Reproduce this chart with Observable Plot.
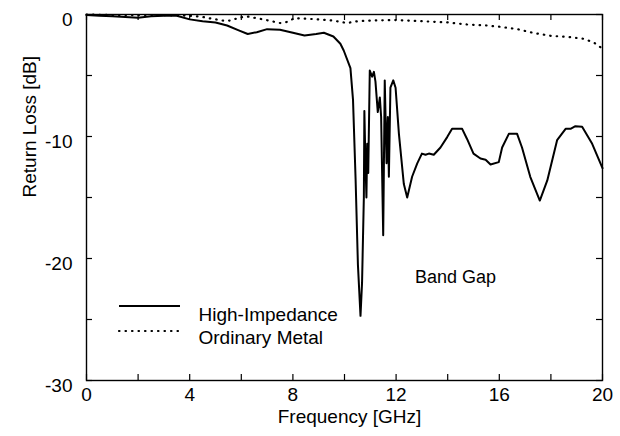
<!DOCTYPE html>
<html>
<head>
<meta charset="utf-8">
<script src="https://cdn.jsdelivr.net/npm/d3@7"></script>
<script src="https://cdn.jsdelivr.net/npm/@observablehq/plot@0.6"></script>
<style>
  html, body { margin: 0; padding: 0; background: #fff; }
  #chart { width: 620px; height: 436px; }
</style>
</head>
<body>
<div id="chart"></div>
<script>
// Frequency [GHz] and return loss [dB]
const hiFreq = [0, 0.5, 1.0, 1.5, 2.0, 2.5, 3.0, 3.5, 4.0, 4.5, 5.0, 5.45, 5.9, 6.25, 6.6, 7.0, 7.5, 8.0, 8.45, 8.9, 9.2, 9.57, 9.84, 9.97,
  10.23, 10.33, 10.43, 10.52, 10.62, 10.68, 10.75, 10.77, 10.81, 10.85, 10.88, 10.92, 10.98, 11.07, 11.14, 11.2, 11.29, 11.37, 11.42, 11.5,
  11.56, 11.63, 11.68, 11.72, 11.78, 11.89, 11.98, 12.11, 12.3, 12.43, 12.62, 12.82, 13.0, 13.14, 13.27, 13.46, 13.72, 13.98, 14.17, 14.56,
  14.75, 15.0, 15.27, 15.47, 15.66, 15.98, 16.11, 16.37, 16.69, 16.88, 17.2, 17.57, 17.86, 18.24, 18.57, 18.76, 18.95, 19.21, 19.6, 20.0];
const hiLoss = [-0.05, -0.1, -0.15, -0.2, -0.27, -0.15, -0.1, -0.1, -0.4, -0.55, -0.65, -0.9, -1.3, -1.6, -1.45, -1.2, -1.25, -1.5, -1.72, -1.6, -1.5, -1.8, -2.4, -2.95,
  -4.4, -7.0, -13.5, -20.5, -24.7, -22, -15, -7.9, -12, -15, -10.6, -13, -4.6, -5.1, -4.7, -5.5, -8.0, -6.8, -8.4, -18.1,
  -5.4, -12.2, -8.4, -13.3, -6.0, -5.4, -6.0, -9.8, -13.9, -15.0, -13.3, -12.2, -11.4, -11.5, -11.4, -11.5, -10.9, -10.05, -9.37, -9.37,
  -10.2, -11.4, -11.8, -11.9, -12.3, -12.1, -10.9, -9.78, -9.78, -10.9, -13.3, -15.25, -13.6, -10.3, -9.37, -9.37, -9.15, -9.2, -10.6, -12.6];

const metalFreq = [0, 1, 2, 3, 4, 4.5, 4.9, 5.3, 5.6, 5.85, 6.2, 6.85, 7.5, 7.8, 8.05, 8.55, 9.0, 9.57, 10.1, 10.5, 11.0, 11.9, 12.5, 13.0,
  14.0, 14.75, 15.5, 16.0, 16.7, 17.3, 18.0, 18.7, 19.3, 19.7, 20.0];
const metalLoss = [0, -0.05, -0.05, -0.05, -0.1, -0.2, -0.36, -0.5, -0.5, -0.3, -0.15, -0.4, -0.7, -0.6, -0.3, -0.35, -0.4, -0.5, -0.7, -0.55, -0.5, -0.45, -0.5, -0.55,
  -0.65, -0.82, -0.9, -1.0, -1.2, -1.5, -1.75, -1.85, -2.0, -2.35, -2.8];

const xTicks = [0, 2, 4, 6, 8, 10, 12, 14, 16, 18, 20];
const xLabels = [0, 4, 8, 12, 16, 20];
const yTicks = [0, -5, -10, -15, -20, -25, -30];
const yLabels = [0, -10, -20, -30];

const seriesNames = ["High-Impedance", "Ordinary Metal"];
const xTitle = "Frequency [GHz]";
const yTitle = "Return Loss [dB]";
const annotation = "Band Gap";

const hi = hiFreq.map((f, i) => ({f, v: hiLoss[i]}));
const metal = metalFreq.map((f, i) => ({f, v: metalLoss[i]}));

const W = 620, H = 436;
const mL = 86, mR = 18, mT = 14, mB = 56;
const plotW = W - mL - mR, plotH = H - mT - mB;
const tickLen = 6;
const font = "'Liberation Sans', Arial, Helvetica, sans-serif";
const fs = 19;

const chart = Plot.plot({
  width: W, height: H,
  marginLeft: mL, marginRight: mR, marginTop: mT, marginBottom: mB,
  style: {fontFamily: font, fontSize: fs + "px", color: "#000", background: "#fff"},
  x: {domain: [0, 20]},
  y: {domain: [-30, 0]},
  marks: [
    Plot.axisX({ticks: xLabels, tickSize: 0, tickPadding: 7, tickFormat: d => String(d), label: null, fontSize: fs}),
    Plot.axisY({ticks: yLabels, tickSize: 0, tickPadding: 14, dy: 5, tickFormat: d => String(d), label: null, fontSize: fs}),
    Plot.tickX(xTicks, {x: d => d, insetTop: plotH - tickLen, stroke: "#000", strokeWidth: 1.2}),
    Plot.tickX(xTicks, {x: d => d, insetBottom: plotH - tickLen, stroke: "#000", strokeWidth: 1.2}),
    Plot.tickY(yTicks, {y: d => d, insetRight: plotW - tickLen, stroke: "#000", strokeWidth: 1.2}),
    Plot.tickY(yTicks, {y: d => d, insetLeft: plotW - tickLen, stroke: "#000", strokeWidth: 1.2}),
    Plot.line(metal, {x: "f", y: "v", stroke: "#000", strokeWidth: 2.2, strokeDasharray: "0.5,6", strokeLinecap: "round"}),
    Plot.line(hi, {x: "f", y: "v", stroke: "#000", strokeWidth: 2, strokeLinejoin: "round"}),
    Plot.frame({stroke: "#000", strokeWidth: 1.4}),
    Plot.text([annotation], {frameAnchor: "top-left", dx: 369, dy: 256, fontSize: 18, textAnchor: "middle", fill: "#000"}),
    Plot.text([seriesNames[0]], {frameAnchor: "top-left", dx: 112, dy: 293, fontSize: fs, textAnchor: "start", fill: "#000"}),
    Plot.text([seriesNames[1]], {frameAnchor: "top-left", dx: 112, dy: 316, fontSize: fs, textAnchor: "start", fill: "#000"}),
    Plot.text([xTitle], {frameAnchor: "bottom", dx: 5, dy: 42, fontSize: fs, fill: "#000"}),
    Plot.text([yTitle], {frameAnchor: "left", dx: -57, rotate: -90, fontSize: fs, fill: "#000"})
  ]
});

// legend sample lines (pixel layout inside the plot area)
const svg = d3.select(chart);
svg.append("line").attr("x1", mL + 33).attr("x2", mL + 94).attr("y1", mT + 292).attr("y2", mT + 292)
  .attr("stroke", "#000").attr("stroke-width", 2);
svg.append("line").attr("x1", mL + 33).attr("x2", mL + 92).attr("y1", mT + 317).attr("y2", mT + 317)
  .attr("stroke", "#000").attr("stroke-width", 2.2).attr("stroke-dasharray", "0.5,6").attr("stroke-linecap", "round");

document.getElementById("chart").appendChild(chart);
</script>
</body>
</html>
